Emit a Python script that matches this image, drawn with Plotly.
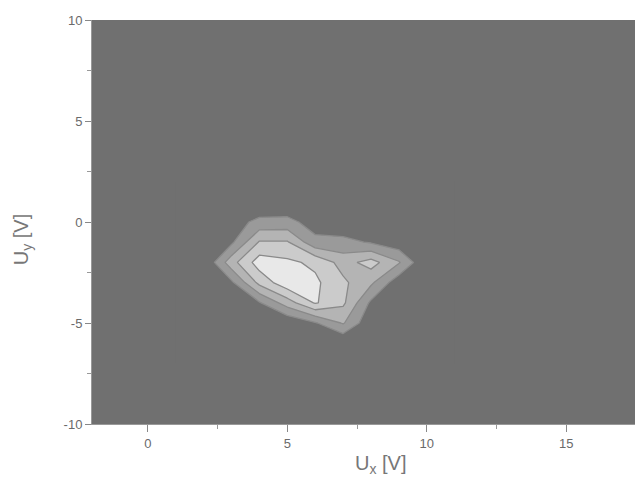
import plotly.graph_objects as go

# grid coordinates (V)
x_vals = [1, 2, 3, 4, 5, 6, 7, 8, 9, 10, 11]
y_vals = [-7, -6, -5, -4, -3, -2, -1, 0, 1, 2]

# intensity values on the grid (rows follow y_vals)
z_y_m7 = [0, 0, 0, 0, 0, 0, 0, 0, 0, 0, 0]
z_y_m6 = [0, 0, 0, 0, 0, 0, 0, 0, 0, 0, 0]
z_y_m5 = [0, 0, 0, 0, 0.1, 0.9, 2.1, 0.2, 0, 0, 0]
z_y_m4 = [0, 0, 0, 0.9, 2.5, 4.1, 3.2, 0.8, 0, 0, 0]
z_y_m3 = [0, 0, 0.8, 3.3, 4.7, 4.2, 3.2, 2.2, 0.33, 0, 0]
z_y_m2 = [0, 0, 2.6, 4.5, 4.2, 3.8, 2.6, 3.4, 2.1, 0, 0]
z_y_m1 = [0, 0, 0.8, 3.1, 3.1, 1.3, 1.3, 0.9, 0.33, 0, 0]
z_y_0 = [0, 0, 0.5, 1.3, 1.35, 0.5, 0.2, 0, 0, 0, 0]
z_y_1 = [0, 0, 0, 0, 0, 0, 0, 0, 0, 0, 0]
z_y_2 = [0, 0, 0, 0, 0, 0, 0, 0, 0, 0, 0]
z_rows = [z_y_m7, z_y_m6, z_y_m5, z_y_m4, z_y_m3, z_y_m2, z_y_m1, z_y_0, z_y_1, z_y_2]

x_ticks = [0, 5, 10, 15]
y_ticks = [-10, -5, 0, 5, 10]

BG = "#707070"
band_colors = ["#707070", "#9a9a9a", "#b4b4b4", "#cbcbcb", "#e8e8e8"]
colorscale = [[i / (len(band_colors) - 1), c] for i, c in enumerate(band_colors)]

fig = go.Figure()
fig.add_trace(go.Contour(
    x=x_vals, y=y_vals, z=z_rows,
    autocontour=False,
    contours=dict(start=1, end=4, size=1, coloring="fill"),
    colorscale=colorscale,
    showscale=False,
    line=dict(color="#8a8a8a", width=1.3, smoothing=0),
    hoverinfo="skip",
))

tickfont = dict(family="Liberation Sans, Arial, sans-serif", size=13, color="#6a6a6a")
fig.update_layout(
    width=635, height=475,
    margin=dict(l=84, r=0, t=12, b=59),
    paper_bgcolor="white",
    plot_bgcolor=BG,
    showlegend=False,
    xaxis=dict(
        range=[-2, 17.75], tickvals=x_ticks, ticktext=[str(v) for v in x_ticks],
        ticks="outside", ticklen=7, tickwidth=1, tickcolor="#888",
        showgrid=False, zeroline=False, showline=True, linecolor="#999", linewidth=1,
        tickfont=tickfont,
        minor=dict(tickvals=[2.5, 7.5, 12.5, 17.5], ticks="outside", ticklen=4, tickcolor="#999"),
    ),
    yaxis=dict(
        range=[-10, 10], tickvals=y_ticks, ticktext=[str(v) for v in y_ticks],
        ticks="outside", ticklen=6, tickwidth=1, tickcolor="#888",
        showgrid=False, zeroline=False, showline=True, linecolor="#999", linewidth=1,
        tickfont=tickfont,
        minor=dict(tickvals=[-7.5, -2.5, 2.5, 7.5], ticks="outside", ticklen=4, tickcolor="#999"),
    ),
    annotations=[
        dict(text="U<sub>x</sub> [V]", xref="paper", yref="paper", x=0.523, y=-0.10,
             xanchor="center", yanchor="middle", showarrow=False,
             font=dict(family="Liberation Sans, Arial, sans-serif", size=20, color="#777")),
        dict(text="U<sub>y</sub> [V]", xref="paper", yref="paper", x=-0.127, y=0.455,
             xanchor="center", yanchor="middle", showarrow=False, textangle=-90,
             font=dict(family="Liberation Sans, Arial, sans-serif", size=20, color="#777")),
    ],
)

fig.write_html("out.html")
